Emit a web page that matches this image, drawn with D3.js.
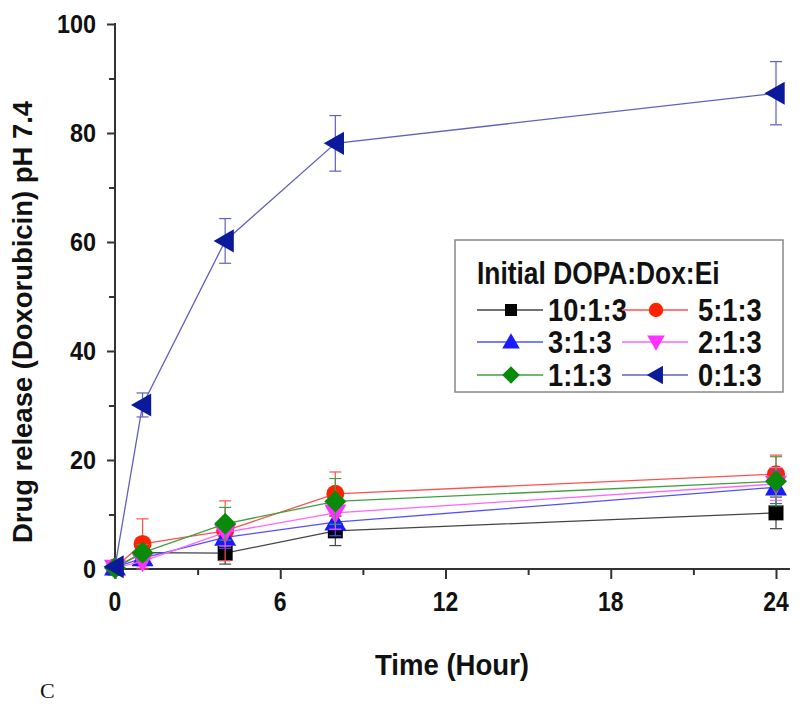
<!DOCTYPE html>
<html>
<head>
<meta charset="utf-8">
<script src="https://cdn.jsdelivr.net/npm/d3@7"></script>
<style>
  body { margin: 0; background: #fff; }
  text { font-family: "Liberation Sans", Arial, sans-serif; font-weight: bold; fill: #111; }
</style>
</head>
<body>
<div id="chart-area"></div>
<script>
// data
var times = [0, 1, 4, 8, 24];
var seriesNames = ["10:1:3", "5:1:3", "3:1:3", "2:1:3", "1:1:3", "0:1:3"];
var r10 = [0.2, 3.0, 2.9, 7.0, 10.3];
var r10Err = [0, 1.0, 2.0, 2.7, 2.9];
var r5 = [0.3, 4.6, 7.0, 13.8, 17.4];
var r5Err = [0, 4.6, 5.5, 4.0, 3.5];
var r3 = [0.3, 2.0, 5.8, 8.6, 15.0];
var r3Err = [0, 1.0, 2.0, 2.5, 3.0];
var r2 = [0.2, 1.4, 6.7, 10.3, 15.6];
var r2Err = [0, 1.0, 2.5, 3.0, 3.0];
var r1 = [0.2, 3.0, 8.3, 12.4, 16.1];
var r1Err = [0, 1.5, 3.0, 4.2, 4.5];
var r0 = [0.4, 30.1, 60.2, 78.1, 87.3];
var r0Err = [0, 2.2, 4.1, 5.1, 5.8];
var xTicks = [0, 6, 12, 18, 24];
var yTicks = [0, 20, 40, 60, 80, 100];

var colors = ["#000000", "#ff2200", "#1a1aff", "#ff33ff", "#0a8a0a", "#0a1a9a"];
var lineColors = ["#444444", "#ff5050", "#5050ff", "#ff66ff", "#40a040", "#6060c0"];
var shapes = ["square", "circle", "triangle", "down", "diamond", "left"];
var markerSize = { square: 15, circle: 18, triangle: 20, down: 20, diamond: 20, left: 21 };

var series = seriesNames.map(function(name, i) {
    var vals = [r10, r5, r3, r2, r1, r0][i];
    var errs = [r10Err, r5Err, r3Err, r2Err, r1Err, r0Err][i];
    return {
        name: name,
        color: colors[i],
        line: lineColors[i],
        shape: shapes[i],
        points: times.map(function(t, j) { return { t: t, v: vals[j], e: errs[j] }; })
    };
});

var W = 800, H = 721;
var svg = d3.select("#chart-area").append("svg")
    .attr("width", W)
    .attr("height", H);

var x = d3.scaleLinear().domain([0, 24]).range([115, 776]);
var y = d3.scaleLinear().domain([0, 100]).range([569, 24]);

// squeeze text horizontally, the original font looks condensed
function condense(sel, k) {
    sel.each(function() {
        var len = this.getComputedTextLength();
        d3.select(this).attr("textLength", len * k).attr("lengthAdjust", "spacingAndGlyphs");
    });
}

// marker paths
function markerPath(shape, s) {
    if (shape === "square") return d3.symbol(d3.symbolSquare, s * s)();
    if (shape === "circle") return d3.symbol(d3.symbolCircle, Math.PI * s * s / 4)();
    if (shape === "diamond") {
        var r = s * 0.55;
        return "M0," + (-r) + "L" + r + ",0L0," + r + "L" + (-r) + ",0Z";
    }
    var h = s * 0.55;
    if (shape === "triangle") return "M0," + (-h) + "L" + h + "," + (h * 0.75) + "L" + (-h) + "," + (h * 0.75) + "Z";
    if (shape === "down") return "M0," + h + "L" + h + "," + (-h * 0.75) + "L" + (-h) + "," + (-h * 0.75) + "Z";
    if (shape === "left") return "M" + (-h) + ",0L" + (h * 0.75) + "," + (-h) + "L" + (h * 0.75) + "," + h + "Z";
}

// axes
var xAxis = d3.axisBottom(x).tickValues(d3.range(0, 25, 3)).tickSize(8).tickFormat("");
var yAxis = d3.axisLeft(y).tickValues(d3.range(0, 101, 10)).tickSize(6).tickFormat("");

var xg = svg.append("g").attr("transform", "translate(0,569)").call(xAxis);
var yg = svg.append("g").attr("transform", "translate(115,0)").call(yAxis);

[xg, yg].forEach(function(g) {
    g.select(".domain").remove();
    g.selectAll("line").attr("stroke", "#333").attr("stroke-width", 2);
});
xg.selectAll(".tick line").attr("y2", function(d) { return d % 6 === 0 ? 10 : 6; });
yg.selectAll(".tick line").attr("x2", function(d) { return d % 20 === 0 ? -8 : -6; });

svg.append("line")
    .attr("x1", 114).attr("x2", 790).attr("y1", 569).attr("y2", 569)
    .attr("stroke", "#333").attr("stroke-width", 2);
svg.append("line")
    .attr("x1", 115).attr("x2", 115).attr("y1", 23).attr("y2", 570)
    .attr("stroke", "#333").attr("stroke-width", 2);

svg.selectAll(".xlab").data(xTicks).enter().append("text")
    .attr("x", function(d) { return x(d); })
    .attr("y", 611)
    .attr("text-anchor", "middle")
    .attr("font-size", 27)
    .text(function(d) { return d; })
    .call(condense, 0.85);

svg.selectAll(".ylab").data(yTicks).enter().append("text")
    .attr("x", 96)
    .attr("y", function(d) { return y(d) + 9; })
    .attr("text-anchor", "end")
    .attr("font-size", 26)
    .text(function(d) { return d; })
    .call(condense, 0.9);

svg.append("text")
    .attr("x", 452).attr("y", 675)
    .attr("text-anchor", "middle")
    .attr("font-size", 29)
    .text("Time (Hour)")
    .call(condense, 0.95);

svg.append("text")
    .attr("transform", "translate(32,322) rotate(-90)")
    .attr("text-anchor", "middle")
    .attr("font-size", 28)
    .text("Drug release (Doxorubicin) pH 7.4")
    .call(condense, 0.98);

svg.append("text")
    .attr("x", 40).attr("y", 698)
    .style("font-family", "'Liberation Serif', serif")
    .style("font-weight", "normal")
    .attr("font-size", 22)
    .text("C");

// lines
var line = d3.line().x(function(d) { return x(d.t); }).y(function(d) { return y(d.v); });

var sg = svg.selectAll(".series").data(series).enter().append("g");

sg.append("path")
    .attr("d", function(d) { return line(d.points); })
    .attr("fill", "none")
    .attr("stroke", function(d) { return d.line; })
    .attr("stroke-width", 1.3);

// error bars
sg.each(function(s) {
    var g = d3.select(this);
    var eb = g.selectAll(".err").data(s.points.filter(function(p) { return p.e > 0; })).enter().append("g")
        .attr("stroke", s.line).attr("stroke-width", 1.2);
    eb.append("line")
        .attr("x1", function(p) { return x(p.t); }).attr("x2", function(p) { return x(p.t); })
        .attr("y1", function(p) { return y(p.v + p.e); }).attr("y2", function(p) { return y(p.v - p.e); });
    eb.append("line")
        .attr("x1", function(p) { return x(p.t) - 6; }).attr("x2", function(p) { return x(p.t) + 6; })
        .attr("y1", function(p) { return y(p.v + p.e); }).attr("y2", function(p) { return y(p.v + p.e); });
    eb.append("line")
        .attr("x1", function(p) { return x(p.t) - 6; }).attr("x2", function(p) { return x(p.t) + 6; })
        .attr("y1", function(p) { return y(p.v - p.e); }).attr("y2", function(p) { return y(p.v - p.e); });
});

// markers
sg.each(function(s) {
    d3.select(this).selectAll(".m").data(s.points).enter().append("path")
        .attr("transform", function(p) { return "translate(" + x(p.t) + "," + y(p.v) + ")"; })
        .attr("d", markerPath(s.shape, markerSize[s.shape]))
        .attr("fill", s.color);
});

// legend
var lg = svg.append("g");
lg.append("rect")
    .attr("x", 455).attr("y", 240).attr("width", 328).attr("height", 152)
    .attr("fill", "#fff").attr("stroke", "#888").attr("stroke-width", 1.5);
lg.append("text")
    .attr("x", 477).attr("y", 284)
    .attr("font-size", 31)
    .text("Initial DOPA:Dox:Ei")
    .call(condense, 0.85);

var rowY = [310, 342, 375];
var items = lg.selectAll(".item").data(series).enter().append("g")
    .attr("transform", function(d, i) {
        return "translate(" + (i % 2 === 0 ? 477 : 622) + "," + rowY[Math.floor(i / 2)] + ")";
    });
items.append("line")
    .attr("x1", 0).attr("x2", 66)
    .attr("stroke", function(d) { return d.line; }).attr("stroke-width", 1.3);
items.append("path")
    .attr("transform", "translate(34,0)")
    .attr("d", function(d) { return markerPath(d.shape, markerSize[d.shape] * 0.8); })
    .attr("fill", function(d) { return d.color; });
items.append("text")
    .attr("x", function(d, i) { return i % 2 === 0 ? 71 : 76; })
    .attr("y", 11)
    .attr("font-size", 31)
    .text(function(d) { return d.name; })
    .call(condense, 0.88);
</script>
</body>
</html>
